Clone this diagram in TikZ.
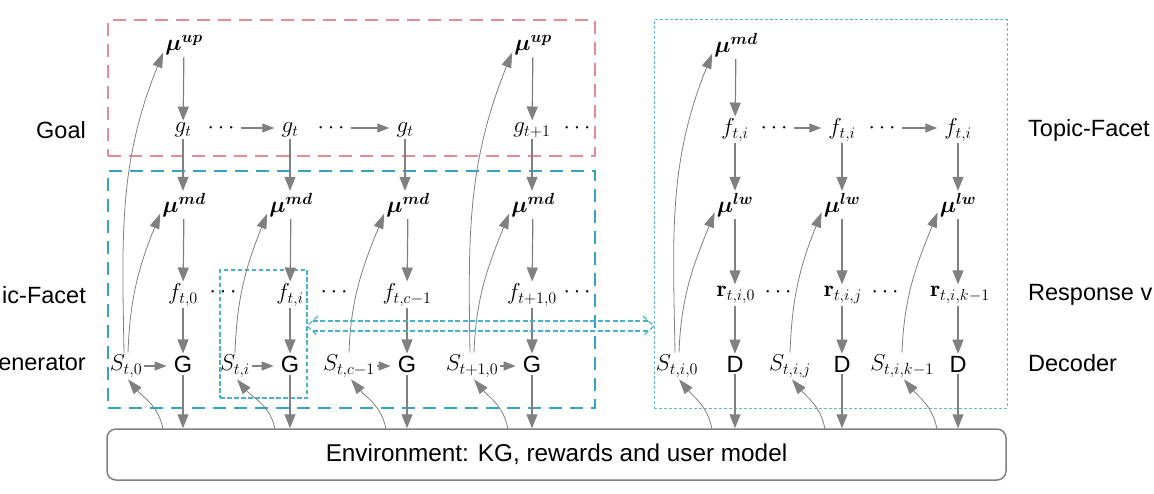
\RequirePackage{fix-cm}
\documentclass[tikz,border=0pt]{standalone}
\usepackage{amsmath,amssymb}
\usepackage{fontspec}
\newfontfamily\lsans{Liberation Sans}
\usetikzlibrary{arrows.meta,calc}
\definecolor{goalred}{RGB}{228,140,145}
\definecolor{genblue}{RGB}{52,163,196}
\definecolor{decblue}{RGB}{95,185,210}
\definecolor{dblcyan}{RGB}{70,178,206}
\begin{document}
\begin{tikzpicture}[x=1pt,y=-1pt,
  arr/.style={draw=gray,line width=1.2pt,-{Triangle[length=14pt,width=11pt]}},
  sarr/.style={draw=gray,line width=1.2pt,-{Triangle[length=12pt,width=9pt]},shorten >=5pt},
  carr/.style={draw=gray,line width=0.8pt,-{Triangle[length=15pt,width=10pt]}},
  mth/.style={font=\fontsize{23}{27}\selectfont,inner sep=2pt},
  lbl/.style={font=\lsans\fontsize{23.5}{28}\selectfont,inner sep=2pt},
  boxn/.style={inner sep=0pt,outer sep=0pt},
  dbl/.style={draw=dblcyan,line width=1.2pt,dash pattern=on 5pt off 2.5pt}]
\useasboundingbox (0,0) rectangle (1154,494);
% ---------- boxes ----------
\node[boxn,draw=goalred,line width=2.6pt,dash pattern=on 13pt off 8pt,minimum width=487pt,minimum height=136pt] (goalbox) at (351.5,88) {};
\node[boxn,draw=genblue,line width=2.6pt,dash pattern=on 13pt off 8pt,minimum width=487pt,minimum height=237pt] (genbox) at (351.5,289.5) {};
\node[boxn,draw=decblue,line width=1pt,dash pattern=on 3pt off 2pt,minimum width=353pt,minimum height=388pt] (rbox) at (830.5,214) {};
\node[boxn,draw=dblcyan,line width=1.3pt,dash pattern=on 4.5pt off 2.5pt,minimum width=87pt,minimum height=128pt] (inbox) at (263.5,334) {};
\node[draw=gray,line width=1.5pt,rounded corners=9pt,minimum width=899pt,minimum height=51pt,font=\lsans\fontsize{24.3}{28}\selectfont] (env) at (556.5,454.5) {Environment: KG, rewards and user model};
% ---------- side labels ----------
\node[lbl,anchor=east] (lgoal) at (88,130) {Goal};
\node[lbl,anchor=east] (lfacet) at (88,295) {ic-Facet};
\node[lbl,anchor=east] (lgen) at (88,363) {enerator};
\node[lbl,anchor=west] (rfacet) at (1026,130) {Topic-Facet};
\node[lbl,anchor=west] (rresp) at (1026,295) {Response v};
\node[lbl,anchor=west] (rdec) at (1026,363) {Decoder};
% ---------- left part ----------
\node[mth] (u1) at (184,45) {$\boldsymbol{\mu^{up}}$};
\node[mth] (u4) at (533,45) {$\boldsymbol{\mu^{up}}$};
\node[mth] (g1) at (183,130) {$g_t$};
\node[mth] (g2) at (290,130) {$g_t$};
\node[mth] (g3) at (405,130) {$g_t$};
\node[mth] (g4) at (532,130) {$g_{t+1}$};
\node[mth] (dg1) at (223,128) {$\cdots$};
\node[mth] (dg2) at (333,128) {$\cdots$};
\node[mth] (dg3) at (579,128) {$\cdots$};
\foreach \n/\x in {1/184,2/291,3/408,4/533}{
  \node[mth] (m\n) at (\x,205) {$\boldsymbol{\mu^{md}}$};}
\node[mth] (f1) at (183,295) {$f_{t,0}$};
\node[mth] (f2) at (290,295) {$f_{t,i}$};
\node[mth] (f3) at (407,295) {$f_{t,c-1}$};
\node[mth] (f4) at (532,295) {$f_{t+1,0}$};
\node[mth] (df1) at (225,292) {$\cdots$};
\node[mth] (df2) at (336,292) {$\cdots$};
\node[mth] (df3) at (579,292) {$\cdots$};
\foreach \n/\x in {1/183,2/290,3/407,4/532}{
  \node[lbl] (G\n) at (\x,364) {G};}
\node[mth] (S1) at (126,366) {$S_{t,0}$};
\node[mth] (S2) at (235,366) {$S_{t,i}$};
\node[mth] (S3) at (349,366) {$S_{t,c-1}$};
\node[mth] (S4) at (472,366) {$S_{t+1,0}$};
% vertical arrows
\draw[arr] (u1) -- (g1);
\draw[arr] (u4) -- (g4);
\foreach \n in {1,2,3,4}{
  \draw[arr] (g\n.south |- g\n.south) -- (g\n.south |- m\n.north);
  \draw[arr] (m\n) -- (f\n);
  \draw[arr] (f\n) -- (G\n);
  \draw[arr] (G\n.south) -- (G\n.south |- env.north);
  \draw[sarr] (S\n.east) -- (S\n.east -| G\n.west);}
\draw[sarr] (dg1.east) -- (dg1.east -| g2.west);
\draw[sarr] (dg2.east) -- (dg2.east -| g3.west);
% curves state -> policy
\draw[carr] ([xshift=-2pt]S1.north) to[out=91,in=-112] (u1.200);
\draw[carr] ([xshift=2pt]S1.north) to[out=88,in=-112] (m1.200);
\draw[carr] (S2.north) to[out=88,in=-112] (m2.200);
\draw[carr] (S3.north) to[out=88,in=-112] (m3.200);
\draw[carr] ([xshift=-2pt]S4.north) to[out=91,in=-112] (u4.200);
\draw[carr] ([xshift=2pt]S4.north) to[out=88,in=-112] (m4.200);
% environment -> states
\coordinate (e1) at (163,429.5);
\coordinate (e2) at (275,429.5);
\coordinate (e3) at (386,429.5);
\coordinate (e4) at (508,429.5);
\foreach \n in {1,2,3,4}{
  \draw[carr] (e\n) to[out=100,in=-50] ([xshift=2pt]S\n.south);}
% ---------- right part ----------
\node[mth] (rm) at (736,45) {$\boldsymbol{\mu^{md}}$};
\foreach \n/\x in {1/735,2/842,3/958}{
  \node[mth] (h\n) at (\x,130) {$f_{t,i}$};
  \node[mth] (l\n) at (\x,205) {$\boldsymbol{\mu^{lw}}$};
  \node[lbl] (D\n) at (\x,364) {D};}
\node[mth] (r1) at (736,295) {$\mathbf{r}_{t,i,0}$};
\node[mth] (r2) at (843,295) {$\mathbf{r}_{t,i,j}$};
\node[mth] (r3) at (960,295) {$\mathbf{r}_{t,i,k-1}$};
\node[mth] (dh1) at (776,128) {$\cdots$};
\node[mth] (dh2) at (884,128) {$\cdots$};
\node[mth] (dr1) at (780,292) {$\cdots$};
\node[mth] (dr2) at (887,292) {$\cdots$};
\node[mth] (T1) at (677,366) {$S_{t,i,0}$};
\node[mth] (T2) at (790,366) {$S_{t,i,j}$};
\node[mth] (T3) at (902,366) {$S_{t,i,k-1}$};
\draw[arr] (rm) -- (h1);
\draw[sarr] (dh1.east) -- (dh1.east -| h2.west);
\draw[sarr] (dh2.east) -- (dh2.east -| h3.west);
\foreach \n in {1,2,3}{
  \draw[arr] (h\n.south) -- (h\n.south |- l\n.north);
  \draw[arr] (l\n.south) -- (l\n.south |- r\n.north);
  \draw[arr] (r\n.south -| D\n.north) -- (D\n.north);
  \draw[arr] (D\n.south) -- (D\n.south |- env.north);}
\draw[carr] ([xshift=-2pt]T1.north) to[out=91,in=-112] (rm.200);
\draw[carr] ([xshift=2pt]T1.north) to[out=88,in=-112] (l1.200);
\draw[carr] (T2.north) to[out=88,in=-112] (l2.200);
\draw[carr] (T3.north) to[out=88,in=-112] (l3.200);
\coordinate (k1) at (712,429.5);
\coordinate (k2) at (825,429.5);
\coordinate (k3) at (937,429.5);
\foreach \n in {1,2,3}{
  \draw[carr] (k\n) to[out=100,in=-50] ([xshift=2pt]T\n.south);}
% ---------- double dashed arrow ----------
\coordinate (dl) at (inbox.east |- 0,326);
\coordinate (dr) at (rbox.west |- 0,326);
\draw[dbl] ($(dl)+(11,-10)$) -- (dl) -- ($(dl)+(11,10)$);
\draw[dbl] ($(dr)+(-11,-10)$) -- (dr) -- ($(dr)+(-11,10)$);
\draw[dbl] ($(dl)+(5.5,-5)$) -- ($(dr)+(-5.5,-5)$);
\draw[dbl] ($(dl)+(5.5,5)$) -- ($(dr)+(-5.5,5)$);
\end{tikzpicture}
\end{document}
